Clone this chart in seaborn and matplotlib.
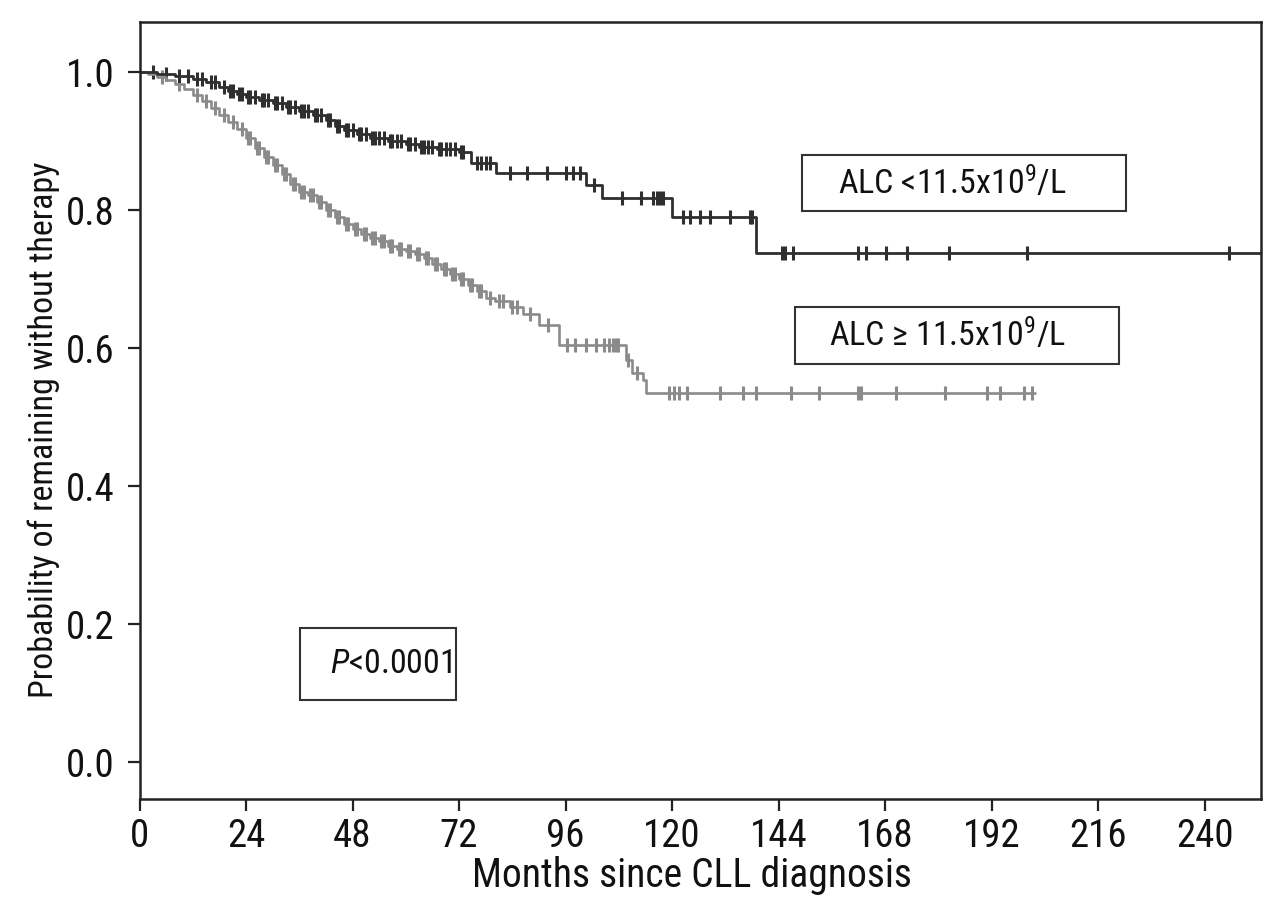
import numpy as np
import pandas as pd
import matplotlib
matplotlib.use("Agg")
import matplotlib.pyplot as plt
import matplotlib.patches as mpatches
import seaborn as sns

# ---------------- data ----------------
low_times = [0, 4, 8, 12, 15, 18, 20, 22, 24, 27, 30, 33, 36, 39, 42, 44, 46, 49, 52,
             56, 60, 63, 67, 72, 74.8, 80.4, 100.7, 104.1, 119.9, 139.0, 252.5]
low_surv = [1.0, 0.997, 0.994, 0.99, 0.985, 0.978, 0.972, 0.968, 0.964, 0.96, 0.955,
            0.95, 0.944, 0.937, 0.93, 0.922, 0.916, 0.91, 0.905, 0.9, 0.895, 0.891,
            0.888, 0.884, 0.868, 0.854, 0.836, 0.817, 0.790, 0.738, 0.738]
low_censor = [3, 6, 9, 11, 13, 14, 16, 17, 19, 20.5, 21, 22.5, 23, 24.5, 25, 26, 27.5, 28,
              29, 30.5, 31, 32, 33.5, 34, 35, 36.5, 37, 38, 39.5, 40, 41, 42.5, 43, 44.5,
              45, 46.5, 47, 48, 49.5, 50, 51, 52.5, 53, 54, 55, 56.5, 57, 58, 59, 60.5,
              61, 62, 63.5, 64, 65, 66, 67.5, 68, 69, 70, 71, 72.5, 73, 76, 77, 78, 79,
              83.4, 87.4, 91.9, 96.2, 97.6, 99.2, 102.5, 108.8, 113.1, 115.6, 116.5,
              117.2, 117.9, 122.4, 124, 126.2, 128.5, 133, 137.5, 138.1, 144.7, 145.5,
              147.2, 161.8, 163.6, 168.3, 173, 182.5, 199.9, 245.4]

high_times = [0, 2, 4, 6, 8, 10, 12, 14, 16, 18, 20, 22, 24, 26, 28, 30, 32, 34, 36,
              38, 40, 42, 44, 46, 48, 50, 52, 54, 56, 58, 60, 62, 64, 66, 68, 70, 72,
              74, 76, 78, 80, 83.4, 86.3, 90, 94.6, 109.7, 111, 113.4, 114.2, 201.7]
high_surv = [1.0, 0.997, 0.993, 0.988, 0.982, 0.975, 0.967, 0.958, 0.948, 0.938,
             0.928, 0.918, 0.905, 0.89, 0.877, 0.865, 0.852, 0.838, 0.826, 0.822,
             0.812, 0.8, 0.79, 0.78, 0.772, 0.765, 0.76, 0.755, 0.748, 0.744, 0.74,
             0.736, 0.73, 0.722, 0.715, 0.708, 0.7, 0.692, 0.683, 0.672, 0.668, 0.66,
             0.65, 0.633, 0.604, 0.583, 0.564, 0.554, 0.535, 0.535]
high_censor = [5, 9, 13, 15, 17, 19, 21, 23, 24.5, 25, 26.5, 27, 28.5, 29, 30.5, 31, 32.5,
               33, 34.5, 35, 36.5, 37, 38.5, 39, 40.5, 41, 42.5, 43, 44.5, 45, 46.5, 47,
               48.5, 49, 50.5, 51, 52.5, 53, 54.5, 55, 56.5, 57, 58.5, 59, 60.5, 61, 62.5,
               63, 64.5, 65, 66.5, 67, 68.5, 69, 70.5, 71, 72.5, 73, 74.5, 75, 76.5, 77,
               79, 81, 82, 84, 85, 88, 92, 96.4, 98.2, 100.5, 102.8, 104.6, 105.7,
               106.6, 107.3, 107.9, 110, 112, 119.4, 120.5, 121.5, 123.3, 130.7, 135.9,
               139, 146.9, 153, 161.8, 162.6, 170.4, 181.6, 190.9, 194, 199.4, 201]

x_ticks = [0, 24, 48, 72, 96, 120, 144, 168, 192, 216, 240]
y_ticks = [0.0, 0.2, 0.4, 0.6, 0.8, 1.0]
y_tick_labels = ["0.0", "0.2", "0.4", "0.6", "0.8", "1.0"]

label_low = r"ALC <11.5x10$^{9}$/L"
label_high = r"ALC ≥ 11.5x10$^{9}$/L"
label_p = r"$\mathit{P}$<0.0001"
x_label = "Months since CLL diagnosis"
y_label = "Probability of remaining without therapy"

# ---------------- style ----------------
sns.set_style("ticks")
FONT = "Roboto Condensed"
plt.rcParams["font.family"] = [FONT, "DejaVu Sans"]
plt.rcParams["mathtext.fontset"] = "custom"
plt.rcParams["mathtext.rm"] = FONT
plt.rcParams["mathtext.it"] = FONT + ":italic"
plt.rcParams["mathtext.sf"] = FONT
plt.rcParams["mathtext.fallback"] = "stix"

DARK = "#2f2f2f"
GRAY = "#8b8b8b"
AX = "#222222"
TXT = "#111111"

fig = plt.figure(figsize=(12.8, 8.99), dpi=100)
ax_h = 799 - 22
ax = fig.add_axes([139.5 / 1280, 1 - 799 / 899, (1261 - 139.5) / 1280, ax_h / 899])


def surv_at(times, surv, pts):
    idx = np.searchsorted(np.asarray(times), np.asarray(pts), side="right") - 1
    return np.asarray(surv)[idx]


low_df = pd.DataFrame({"t": low_times, "s": low_surv})
high_df = pd.DataFrame({"t": high_times, "s": high_surv})

sns.lineplot(data=high_df, x="t", y="s", drawstyle="steps-post", color=GRAY,
             linewidth=1.9, estimator=None, sort=True, ax=ax)
sns.lineplot(data=low_df, x="t", y="s", drawstyle="steps-post", color=DARK,
             linewidth=2.0, estimator=None, sort=True, ax=ax)

hc = pd.DataFrame({"t": high_censor, "s": surv_at(high_times, high_surv, high_censor)})
lc = pd.DataFrame({"t": low_censor, "s": surv_at(low_times, low_surv, low_censor)})
sns.scatterplot(data=hc, x="t", y="s", marker="|", s=90, color=GRAY, linewidth=2.2, ax=ax)
sns.scatterplot(data=lc, x="t", y="s", marker="|", s=90, color=DARK, linewidth=2.2, ax=ax)

ax.set_xlim(0, 252.7)
ax.set_ylim(-0.0536, 1.0725)
ax.set_xticks(x_ticks)
ax.set_yticks(y_ticks)
ax.set_yticklabels(y_tick_labels)
ax.tick_params(axis="both", direction="out", length=8.6, width=1.6, colors=AX,
               labelsize=28, labelcolor=TXT)
ax.tick_params(axis="x", pad=5)
ax.tick_params(axis="y", pad=9.5)
for sp in ax.spines.values():
    sp.set_visible(True)
    sp.set_linewidth(1.8)
    sp.set_color(AX)

ax.set_xlabel(x_label, fontsize=28.5, color=TXT)
ax.xaxis.set_label_coords(0.493, (799 - 856) / ax_h)
ax.set_ylabel(y_label, fontsize=24.5, color=TXT)
ax.yaxis.set_label_coords((60 - 139.5) / 1121.5, (799 - 430) / ax_h)


# annotation boxes
def box(x0, x1, y0, y1):
    ax.add_patch(mpatches.Rectangle((x0, y0), x1 - x0, y1 - y0, fill=False,
                                    edgecolor="#333333", linewidth=1.5, zorder=5))


box(149.2, 222.2, 0.799, 0.880)
ax.text(157.3, 0.839, label_low, fontsize=24.5, va="center", ha="left", color=TXT)
box(147.6, 220.6, 0.577, 0.659)
ax.text(155.3, 0.619, label_high, fontsize=24.5, va="center", ha="left", color=TXT)
box(36.2, 71.3, 0.090, 0.194)
ax.text(43.0, 0.142, label_p, fontsize=24.5, va="center", ha="left", color=TXT)

fig.savefig("out.png", dpi=100)
